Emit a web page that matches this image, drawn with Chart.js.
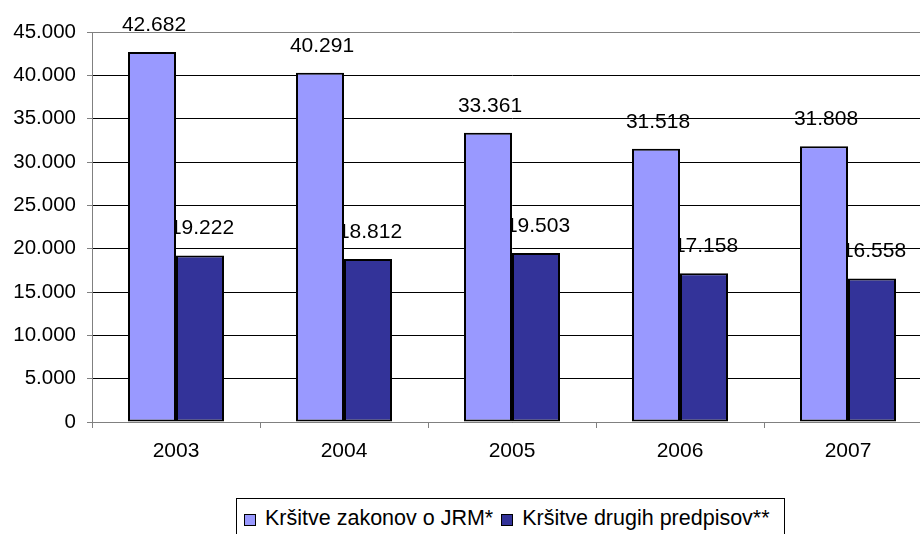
<!DOCTYPE html>
<html>
<head>
<meta charset="utf-8">
<script src="https://cdn.jsdelivr.net/npm/chart.js@4/dist/chart.umd.min.js"></script>
<style>
  html, body { margin: 0; padding: 0; background: #fff; overflow: hidden; width: 920px; height: 534px; }
  #wrap { position: relative; width: 920px; height: 534px; overflow: hidden; }
  #c { position: absolute; left: 0; top: 0; }
  #legend {
    position: absolute; left: 236px; top: 498px; width: 549px; height: 60px;
    box-sizing: border-box; border: 1px solid #000; background: #fff;
    font-family: "Liberation Sans", Arial, sans-serif; font-size: 21.5px; color: #000;
    display: flex; align-items: flex-start; padding: 7px 0 0 7px; white-space: nowrap;
  }
  .item { display: flex; align-items: center; margin-right: 8px; }
  .sw { width: 10px; height: 10px; border: 1px solid #000; margin-right: 9px; margin-top: 2px; }
</style>
</head>
<body>
<div id="wrap">
  <canvas id="c" width="940" height="534"></canvas>
  <div id="legend"></div>
</div>
<script>
const categories = ["2003", "2004", "2005", "2006", "2007"];
const seriesNames = ["Kršitve zakonov o JRM*", "Kršitve drugih predpisov**"];
const zakonovJRM = [42682, 40291, 33361, 31518, 31808];
const drugihPredpisov = [19222, 18812, 19503, 17158, 16558];
const yTicks = [0, 5000, 10000, 15000, 20000, 25000, 30000, 35000, 40000, 45000];
const colors = ["#9999FF", "#333399"];

const FONT = '"Liberation Sans", Arial, sans-serif';
function fmt(v) { return String(v).replace(/\B(?=(\d{3})+(?!\d))/g, "."); }

const labelPlugin = {
  id: "valueLabels",
  afterDatasetDraw(chart, args) {
    const ctx = chart.ctx;
    const meta = args.meta;
    const data = chart.data.datasets[args.index].data;
    ctx.save();
    ctx.font = "21px " + FONT;
    ctx.fillStyle = "#000";
    ctx.textAlign = "center";
    ctx.textBaseline = "middle";
    meta.data.forEach((bar, i) => {
      ctx.fillText(fmt(data[i]), bar.x + 2, bar.y - 27);
    });
    ctx.restore();
  }
};

const chart = new Chart(document.getElementById("c"), {
  type: "bar",
  data: {
    labels: categories,
    datasets: [
      { label: seriesNames[0], data: zakonovJRM, backgroundColor: colors[0], borderColor: "#000", borderWidth: 2, borderSkipped: false },
      { label: seriesNames[1], data: drugihPredpisov, backgroundColor: colors[1], borderColor: "#000", borderWidth: 2, borderSkipped: false }
    ]
  },
  options: {
    responsive: false,
    animation: false,
    layout: { padding: { top: 32, right: 8, left: 0, bottom: 0 } },
    datasets: { bar: { categoryPercentage: 96 / 168, barPercentage: 1 } },
    plugins: { legend: { display: false }, tooltip: { enabled: false } },
    scales: {
      x: {
        grid: { display: true, drawOnChartArea: false, offset: true, color: "#808080", tickLength: 6 },
        border: { display: true, color: "#808080", width: 1 },
        ticks: { color: "#000", font: { family: FONT, size: 21 }, padding: 11, maxRotation: 0 },
        afterFit(scale) { scale.height = 112; }
      },
      y: {
        min: 0, max: 45000,
        afterBuildTicks(scale) { scale.ticks = yTicks.map(v => ({ value: v })); },
        grid: {
          color: ctx => (ctx.tick && ctx.tick.value === 45000) ? "#808080" : "#000",
          tickColor: "#808080", tickLength: 5, lineWidth: 1
        },
        border: { display: true, color: "#808080", width: 1 },
        ticks: { color: "#000", font: { family: FONT, size: 20.5 }, padding: 11, callback: v => fmt(v) },
        afterFit(scale) { scale.width = 92; }
      }
    }
  },
  plugins: [labelPlugin]
});

const lg = document.getElementById("legend");
seriesNames.forEach((name, i) => {
  const it = document.createElement("div");
  it.className = "item";
  const sw = document.createElement("span");
  sw.className = "sw";
  sw.style.background = colors[i];
  const tx = document.createElement("span");
  tx.textContent = name;
  it.appendChild(sw); it.appendChild(tx);
  lg.appendChild(it);
});
</script>
</body>
</html>
